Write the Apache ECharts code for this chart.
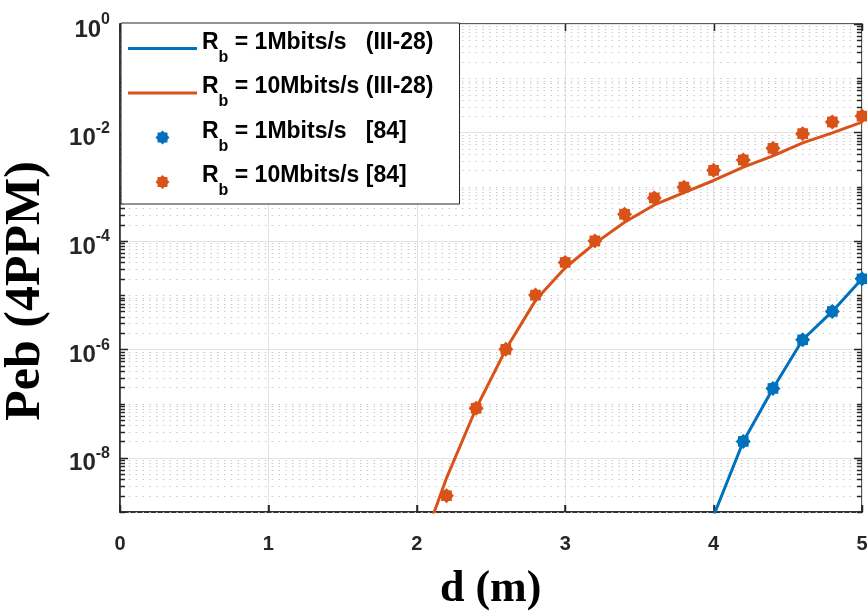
<!DOCTYPE html>
<html>
<head>
<meta charset="utf-8">
<script src="https://cdn.jsdelivr.net/npm/echarts@6.0.0/dist/echarts.min.js"></script>
<style>
html,body{margin:0;padding:0;background:#fff;}
#chart{width:867px;height:612px;}
</style>
</head>
<body>
<div id="chart"></div>
<script>
// ---- data ----
const xTicks = [0, 1, 2, 3, 4, 5];
const yTickExponents = [0, -2, -4, -6, -8];

const seriesNames = [
  'Rb = 1Mbits/s   (III-28)',
  'Rb = 10Mbits/s (III-28)',
  'Rb = 1Mbits/s   [84]',
  'Rb = 10Mbits/s [84]'
];

// theory (III-28), Rb = 1 Mbit/s
const dTheory1 = [4.0, 4.2, 4.4, 4.6, 4.8, 5.0];
const pebTheory1 = [8.5e-10, 2.0e-8, 1.9e-7, 1.5e-6, 5.0e-6, 2.0e-5];

// theory (III-28), Rb = 10 Mbit/s
const dTheory10 = [2.0, 2.2, 2.4, 2.6, 2.8, 3.0, 3.2, 3.4, 3.6, 3.8, 4.0, 4.2, 4.4, 4.6, 4.8, 5.0];
const pebTheory10 = [1.3e-10, 4.2e-9, 8.2e-8, 1.0e-6, 8.0e-6, 3.2e-5, 9.0e-5, 2.2e-4, 4.6e-4, 7.8e-4, 1.3e-3, 2.3e-3, 3.7e-3, 6.4e-3, 9.8e-3, 1.55e-2];

// reference [84], Rb = 1 Mbit/s
const dRef1 = [4.2, 4.4, 4.6, 4.8, 5.0];
const pebRef1 = [2.0e-8, 1.9e-7, 1.5e-6, 5.0e-6, 2.0e-5];

// reference [84], Rb = 10 Mbit/s
const dRef10 = [2.2, 2.4, 2.6, 2.8, 3.0, 3.2, 3.4, 3.6, 3.8, 4.0, 4.2, 4.4, 4.6, 4.8, 5.0];
const pebRef10 = [2.0e-9, 8.2e-8, 1.0e-6, 1.0e-5, 4.0e-5, 1.0e-4, 3.1e-4, 6.2e-4, 9.8e-4, 2.0e-3, 3.1e-3, 5.1e-3, 9.5e-3, 1.56e-2, 2.0e-2];

const xTitle = 'd (m)';
const yTitle = 'Peb (4PPM)';

// ---- styling / helpers ----
const BLUE = '#0072BD';
const ORANGE = '#D95319';
const AXIS = '#262626';

function zip(xs, ys) { return xs.map((x, i) => [x, ys[i]]); }

// gear-like asterisk marker
const markerPath = (function () {
  const pts = [];
  for (let i = 0; i < 16; i++) {
    const a = (i * 22.5 - 90) * Math.PI / 180;
    const r = (i % 2 === 0) ? 10 : 7.8;
    pts.push((10 + r * Math.cos(a)).toFixed(2) + ' ' + (10 + r * Math.sin(a)).toFixed(2));
  }
  return 'path://M' + pts.join(' L') + ' Z';
})();
const lineIcon = 'path://M0 0 L69 0 L69 3 L0 3 Z';

// axis decoration (log grid + box ticks), positions only
const frameItems = [];
for (let k = -9; k <= 0; k++) {
  for (let n = 1; n <= 9; n++) {
    const v = n * Math.pow(10, k);
    if (v > 1 + 1e-12) continue;
    const kind = (n === 1 && yTickExponents.indexOf(k) >= 0) ? 0 : 1;
    frameItems.push([0, v, kind]);
  }
}
xTicks.forEach(function (x) { frameItems.push([x, 1e-4, 2]); });

const chart = echarts.init(document.getElementById('chart'), null, { renderer: 'canvas' });

const option = {
  animation: false,
  backgroundColor: '#ffffff',
  title: {
    text: xTitle,
    left: 440, top: 566,
    padding: 0,
    textStyle: { fontFamily: 'Liberation Serif', fontWeight: 'bold', fontSize: 44, color: '#000', lineHeight: 48 }
  },
  grid: {
    left: 120, right: 5, top: 24, bottom: 100,
    outerBoundsMode: 'none',
    show: true, borderColor: AXIS, borderWidth: 1.5, backgroundColor: '#ffffff'
  },
  legend: {
    orient: 'vertical',
    left: 121, top: 23,
    padding: [8, 26, 5, 7],
    itemWidth: 69, itemHeight: 14, itemGap: 10,
    backgroundColor: '#ffffff',
    borderColor: AXIS, borderWidth: 1, borderRadius: 0,
    data: [
      { name: seriesNames[0], icon: lineIcon },
      { name: seriesNames[1], icon: lineIcon },
      { name: seriesNames[2] },
      { name: seriesNames[3] }
    ],
    formatter: function (name) {
      return '{r|R}{s|b}{r|' + name.slice(2) + '}';
    },
    textStyle: {
      color: '#000',
      fontFamily: 'Liberation Sans',
      fontWeight: 'bold',
      fontSize: 23,
      rich: {
        r: { fontFamily: 'Liberation Sans', fontWeight: 'bold', fontSize: 23, color: '#000', padding: [0, 0, 12, 0] },
        s: { fontFamily: 'Liberation Sans', fontWeight: 'bold', fontSize: 16, color: '#000', padding: [18, 0, 0, 0] }
      }
    },
    z: 10
  },
  xAxis: {
    type: 'value',
    position: 'bottom',
    min: 0, max: 5, interval: 1,
    axisLine: { show: true, lineStyle: { color: AXIS, width: 1.5 } },
    axisTick: { show: true, inside: true, length: 7, lineStyle: { color: AXIS, width: 1.5 } },
    axisLabel: {
      margin: 22,
      color: AXIS, fontFamily: 'Liberation Sans', fontWeight: 'bold', fontSize: 20,
      formatter: function (v) { return xTicks.indexOf(v) >= 0 ? String(v) : ''; }
    },
    splitLine: { show: true, lineStyle: { color: '#e3e3e3', width: 1 } }
  },
  yAxis: {
    type: 'log',
    logBase: 10,
    min: 1e-9, max: 1, interval: 1,
    name: yTitle,
    nameLocation: 'middle',
    nameGap: 94,
    nameRotate: 90,
    nameMoveOverlap: false,
    nameTextStyle: {
      fontFamily: 'Liberation Serif', fontWeight: 'bold', fontSize: 50, color: '#000', verticalAlign: 'middle',
      padding: [0, 46, 0, 0]
    },
    axisLine: { show: true, lineStyle: { color: AXIS, width: 1.5 } },
    axisTick: { show: false },
    splitLine: { show: false },
    axisLabel: {
      margin: 10,
      formatter: function (v) {
        const e = Math.round(Math.log10(v));
        if (yTickExponents.indexOf(e) < 0) return '';
        return '{b|10}{e|' + e + '}';
      },
      rich: {
        b: { fontFamily: 'Liberation Sans', fontWeight: 'bold', fontSize: 24, color: AXIS, padding: [12, 0, 0, 0] },
        e: { fontFamily: 'Liberation Sans', fontWeight: 'bold', fontSize: 16, color: AXIS, padding: [0, 0, 8, 0] }
      }
    }
  },
  series: [
    {
      type: 'custom',
      silent: true,
      z: 1,
      data: frameItems,
      encode: { x: 0, y: 1 },
      renderItem: function (params, api) {
        const cs = params.coordSys;
        const kind = api.value(2);
        const x0 = cs.x, x1 = cs.x + cs.width;
        const y0 = cs.y, y1 = cs.y + cs.height;
        const children = [];
        if (kind === 2) {
          const x = Math.round(api.coord([api.value(0), 1e-4])[0]) + 0.5;
          children.push({ type: 'line', shape: { x1: x, y1: y1, x2: x, y2: y1 - 7 },
            style: { stroke: AXIS, lineWidth: 1.5 } });
          children.push({ type: 'line', shape: { x1: x, y1: y0, x2: x, y2: y0 + 7 },
            style: { stroke: AXIS, lineWidth: 1.5 } });
          return { type: 'group', children: children };
        }
        const y = Math.round(api.coord([0, api.value(1)])[1]) + 0.5;
        if (kind === 0) {
          children.push({ type: 'line', shape: { x1: x0, y1: y, x2: x1, y2: y },
            style: { stroke: '#e3e3e3', lineWidth: 1 } });
        } else {
          children.push({ type: 'line', shape: { x1: x0 + 2, y1: y, x2: x1, y2: y },
            style: { stroke: '#c9c9c9', lineWidth: 1.2, lineDash: [1.5, 5.3] } });
        }
        const len = kind === 0 ? 8 : 5;
        children.push({ type: 'line', shape: { x1: x0, y1: y, x2: x0 + len, y2: y },
          style: { stroke: AXIS, lineWidth: 1.5 } });
        children.push({ type: 'line', shape: { x1: x1 - len, y1: y, x2: x1, y2: y },
          style: { stroke: AXIS, lineWidth: 1.5 } });
        return { type: 'group', children: children };
      }
    },
    {
      name: seriesNames[0], type: 'line', z: 3,
      data: zip(dTheory1, pebTheory1),
      symbol: 'none', showSymbol: false,
      lineStyle: { color: BLUE, width: 3 }, itemStyle: { color: BLUE },
      clip: true
    },
    {
      name: seriesNames[1], type: 'line', z: 3,
      data: zip(dTheory10, pebTheory10),
      symbol: 'none', showSymbol: false,
      lineStyle: { color: ORANGE, width: 3 }, itemStyle: { color: ORANGE },
      clip: true
    },
    {
      name: seriesNames[2], type: 'scatter', z: 4,
      data: zip(dRef1, pebRef1),
      symbol: markerPath, symbolSize: 15,
      itemStyle: { color: BLUE, opacity: 1 }
    },
    {
      name: seriesNames[3], type: 'scatter', z: 4,
      data: zip(dRef10, pebRef10),
      symbol: markerPath, symbolSize: 15,
      itemStyle: { color: ORANGE, opacity: 1 }
    }
  ]
};

chart.setOption(option);
</script>
</body>
</html>
